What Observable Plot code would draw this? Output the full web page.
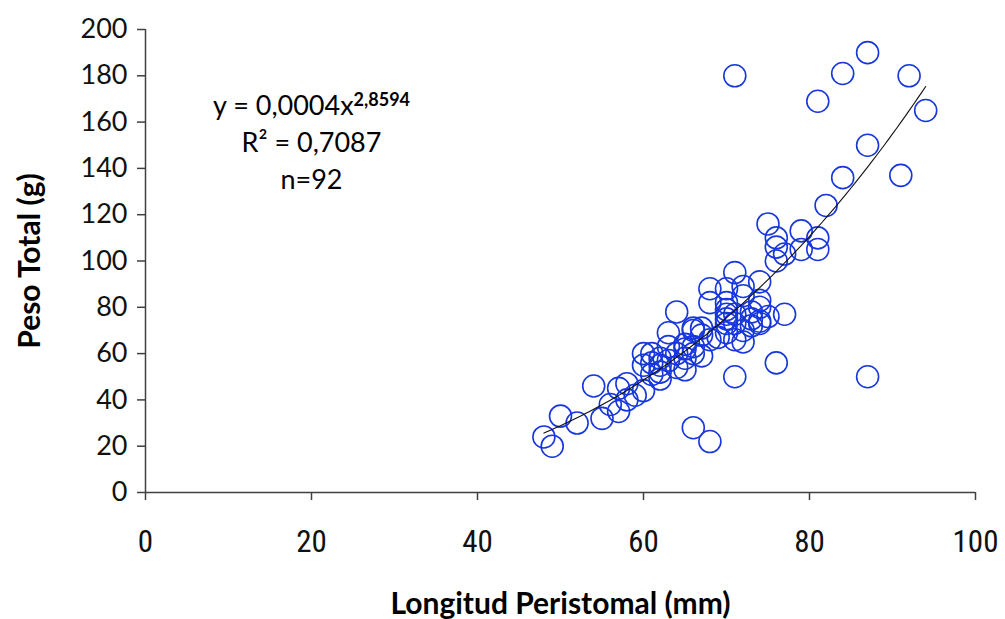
<!DOCTYPE html>
<html><head><meta charset="utf-8">
<script src="https://cdn.jsdelivr.net/npm/d3@7"></script>
<script src="https://cdn.jsdelivr.net/npm/@observablehq/plot@0.6"></script>
<style>body{margin:0;background:#fff}</style>
</head><body><div id="chart"></div>
<script>
// Longitud Peristomal (mm) and Peso Total (g)
const longitud = [87,71,84,92,81,94,87,91,84,82,75,79,81,76,76,79,81,77,76,71,
  68,70,72,74,68,70,74,64,70,73,74,77,70,73,74,71,74,70,72,66,
  67,63,67,70,68,71,72,65,63,65,61,60,67,62,65,61,62,76,64,65,
  61,71,87,62,58,54,57,60,58,56,57,50,55,52,66,48,68,49,
  66,69,64,66,63,60,59,62,66,70,73,71,75,72];
const peso = [190,180,181,180,169,165,150,137,136,124,116,113,110,110,106,105,105,103,100,95,
  88,88,89,91,82,82,83,78,77,78,80,77,75,75,74,73,73,73,70,71,
  71,69,68,69,66,66,65,64,63,62,60,60,59,58,58,56,55,56,54,53,
  51,50,50,49,47,46,45,44,40,38,35,33,32,30,28,24,22,20,
  70,67,60,63,57,55,42,52,60,79,72,77,76,85];
const xTicks = [0,20,40,60,80,100];
const yTicks = [0,20,40,60,80,100,120,140,160,180,200];
// Fitted power curve as printed on the chart
const fitA = 0.0004, fitB = 2.8594;
const fitRange = [48, 94];
const eqBase = "y = 0,0004x", eqExp = "2,8594";
const r2Label = "R² = 0,7087";
const nLabel = "n=92";

const points = longitud.map((x, i) => ({x, y: peso[i]}));
const fit = d3.range(fitRange[0], fitRange[1] + 0.001, 0.5).map(x => ({x, y: fitA * Math.pow(x, fitB)}));

const axisColor = "#404040";
const chart = Plot.plot({
  width: 1005, height: 619,
  marginLeft: 145, marginRight: 30, marginTop: 29, marginBottom: 127,
  x: {domain: [0, 100]},
  y: {domain: [0, 200]},
  style: {fontFamily: "Lato, sans-serif", background: "white", color: "#000"},
  marks: [
    Plot.axisY({ticks: yTicks, tickSize: 8, tickPadding: 10, fontSize: 27, fontFamily: "Lato", label: null, stroke: axisColor, strokeWidth: 1.5, fill: "#111"}),
    Plot.axisX({ticks: xTicks, tickSize: 8, tickPadding: 29, fontSize: 31, fontFamily: "'Liberation Sans Narrow', 'Roboto Condensed', Lato", label: null, stroke: axisColor, strokeWidth: 1.5, fill: "#111"}),
    Plot.ruleX([0], {stroke: axisColor, strokeWidth: 1.5}),
    Plot.ruleY([0], {stroke: axisColor, strokeWidth: 1.5}),
    Plot.dot(points, {x: "x", y: "y", r: 11, stroke: "#1737dc", strokeWidth: 1.6, fill: "none"}),
    Plot.line(fit, {x: "x", y: "y", stroke: "#111", strokeWidth: 1.1}),
    Plot.text([eqBase], {x: 20, y: 167, text: d => d, fontSize: 27, textAnchor: "middle", className: "eq"}),
    Plot.text([r2Label], {x: 20, y: 151, text: d => d, fontSize: 27, textAnchor: "middle"}),
    Plot.text([nLabel], {x: 20, y: 135, text: d => d, fontSize: 27, textAnchor: "middle"}),
    Plot.text(["Longitud Peristomal (mm)"], {frameAnchor: "bottom", dy: 121, text: d => d, fontSize: 30, fontWeight: "bold", textAnchor: "middle"}),
    Plot.text(["Peso Total (g)"], {frameAnchor: "left", dx: -115, rotate: -90, text: d => d, fontSize: 30, fontWeight: "bold", textAnchor: "middle"})
  ]
});
document.getElementById("chart").append(chart);
// add the superscript exponent to the equation
d3.select(chart).selectAll("g.eq text").each(function() {
  const t = d3.select(this);
  t.append("tspan").attr("dy", "-0.5em").attr("font-size", 18).attr("font-weight", "bold").text(eqExp);
});
</script>
</body></html>
